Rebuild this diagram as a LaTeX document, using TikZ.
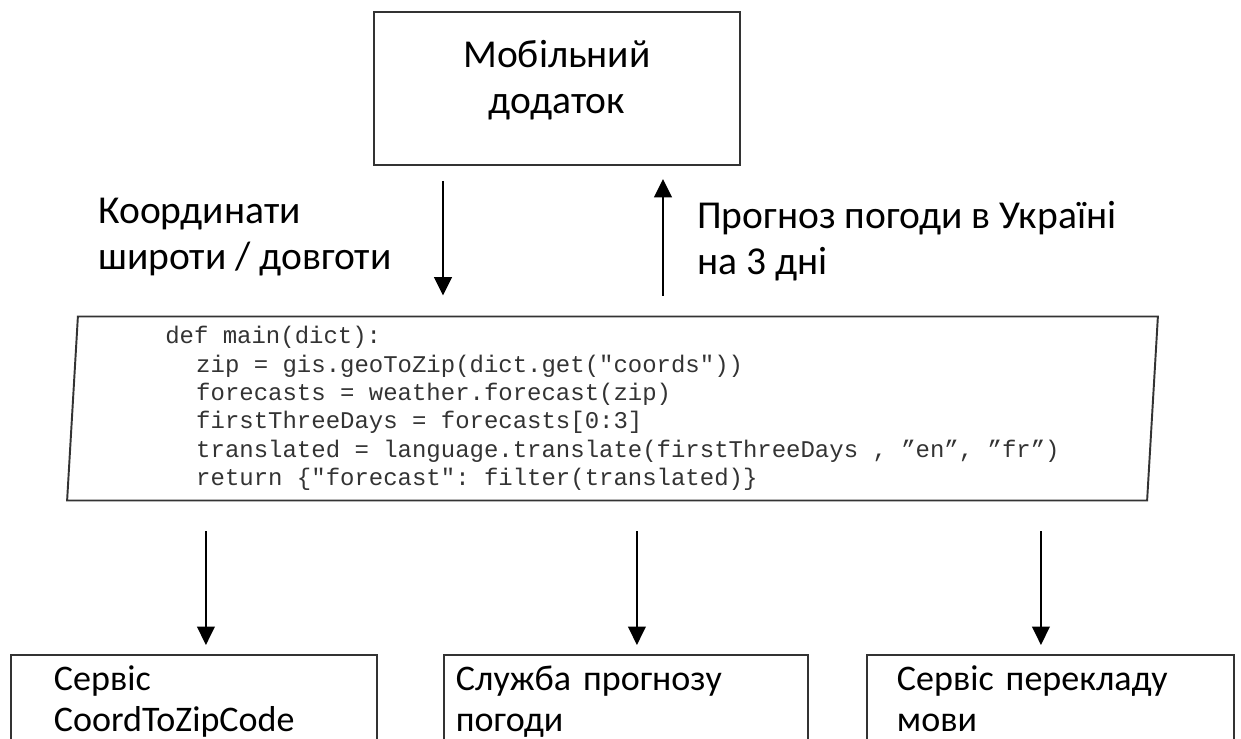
\documentclass[tikz,border=0pt]{standalone}
\usepackage{fontspec}
\setmainfont{Carlito}
\newfontfamily\codefont{Liberation Mono}
\usetikzlibrary{shapes.geometric,arrows.meta}

\tikzset{
	box/.style={draw=black!80, line width=1.1pt},
	txt/.style={font=\fontsize{22.5}{26.5}\selectfont},
	lbl/.style={txt, align=left, anchor=west, inner sep=0pt},
	service/.style={box, anchor=north west, align=left, inner ysep=0.22cm,
		text depth=3cm, font=\fontsize{20.5}{23.3}\selectfont},
	arr/.style={-{Triangle[length=10.5pt,width=10pt]}, line width=1.4pt},
}

\begin{document}
\begin{tikzpicture}[x=0.02cm, y=-0.02cm]
	\useasboundingbox (0,0) rectangle (1241,738);
	\clip (0,0) rectangle (1241,738);

	% client on top
	\node[box, txt, align=center, minimum width=7.32cm, minimum height=3.06cm, text depth=13pt] (app) at (557,88.5) {Мобільний\\додаток};

	% the function
	\node[box, trapezium, trapezium left angle=86.5, trapezium right angle=93.5,
		trapezium stretches body, minimum width=21.82cm, minimum height=3.68cm,
		align=left, text=black!80, font=\codefont\fontsize{13.65}{16.2}\selectfont\frenchspacing] (code) at (612.5,408.5)
		{def main(dict):\\
		\hspace*{0.62cm}zip = gis.geoToZip(dict.get("coords"))\\
		\hspace*{0.62cm}forecasts = weather.forecast(zip)\\
		\hspace*{0.62cm}firstThreeDays = forecasts[0:3]\\
		\hspace*{0.62cm}translated = language.translate(firstThreeDays , ”en”, ”fr”)\hspace*{0.44cm}\\
		\hspace*{0.62cm}return \{"forecast": filter(translated)\}};

	\node[lbl] (qin) at (98,237) {Координати\\широти / довготи};
	\node[lbl] (qout) at (697,241) {Прогноз погоди в Україні\\на 3 дні};

	% services below
	\node[service, inner xsep=0.86cm, text width=5.6cm] (s1) at (10,654) {Сервіс\\CoordToZipCode};
	\node[service, inner xsep=0.24cm, text width=6.8cm] (s2) at (443,654) {Служба прогнозу\\погоди};
	\node[service, inner xsep=0.6cm, text width=6.14cm] (s3) at (866,654) {Сервіс перекладу\\мови};

	\draw[arr, shorten <=0.3cm, shorten >=0.4cm] ([xshift=-2.28cm]app.south) -- ([xshift=-2.28cm]app.south |- code.north);
	\draw[arr, shorten <=0.4cm, shorten >=0.26cm] ([xshift=2.12cm]app.south |- code.north) -- ([xshift=2.12cm]app.south);

	\draw[arr, shorten <=0.6cm, shorten >=0.18cm] ([xshift=0.24cm]s1.north |- code.south) -- ([xshift=0.24cm]s1.north);
	\draw[arr, shorten <=0.6cm, shorten >=0.18cm] ([xshift=0.22cm]s2.north |- code.south) -- ([xshift=0.22cm]s2.north);
	\draw[arr, shorten <=0.6cm, shorten >=0.18cm] ([xshift=-0.19cm]s3.north |- code.south) -- ([xshift=-0.19cm]s3.north);
\end{tikzpicture}
\end{document}
